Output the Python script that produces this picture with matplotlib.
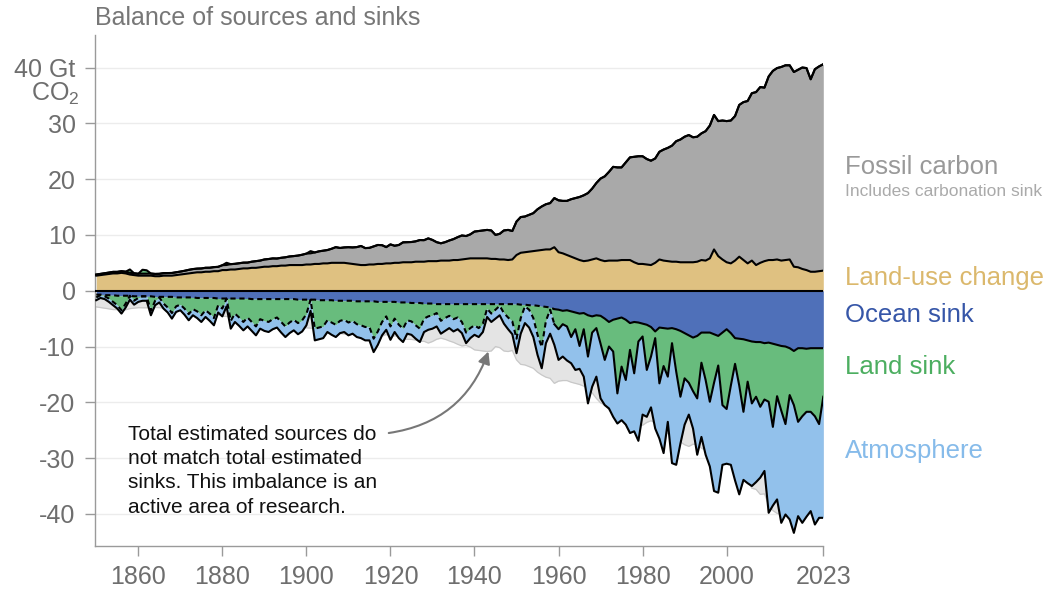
import numpy as np
import matplotlib
matplotlib.use("Agg")
import matplotlib.pyplot as plt

# figure size in pixels (dpi 100)
W, H = 1064, 595

years = np.arange(1850, 2024)

# Gt CO2 per year
fossil = [
    0.20, 0.21, 0.23, 0.25, 0.28, 0.28, 0.30, 0.31, 0.31, 0.33,
    0.34, 0.36, 0.36, 0.38, 0.41, 0.43, 0.45, 0.47, 0.48, 0.50,
    0.53, 0.57, 0.64, 0.68, 0.66, 0.69, 0.71, 0.72, 0.73, 0.78,
    0.87, 0.91, 0.96, 1.02, 1.02, 1.03, 1.04, 1.10, 1.21, 1.20,
    1.30, 1.38, 1.39, 1.37, 1.40, 1.49, 1.54, 1.61, 1.70, 1.85,
    1.95, 2.00, 2.06, 2.26, 2.27, 2.39, 2.52, 2.81, 2.66, 2.76,
    2.90, 2.96, 3.12, 3.42, 3.04, 2.98, 3.25, 3.40, 3.36, 2.92,
    3.40, 3.06, 3.20, 3.57, 3.60, 3.63, 3.65, 3.88, 3.86, 4.08,
    3.80, 3.40, 3.10, 3.30, 3.60, 3.75, 4.10, 4.30, 4.10, 4.30,
    4.80, 4.90, 5.00, 5.10, 5.10, 4.30, 4.60, 5.20, 5.40, 5.10,
    6.00, 6.40, 6.40, 6.60, 6.80, 7.40, 7.80, 8.10, 8.30, 8.80,
    9.30, 9.40, 9.70, 10.30, 10.80, 11.30, 11.80, 12.10, 12.70, 13.50,
    14.60, 15.20, 15.90, 16.80, 16.70, 16.60, 17.50, 18.40, 18.90, 19.30,
    19.30, 18.90, 18.70, 18.70, 19.30, 19.90, 20.30, 20.80, 21.60, 22.00,
    22.50, 22.80, 22.40, 22.40, 22.70, 23.20, 23.80, 24.10, 24.20, 24.90,
    25.30, 25.60, 25.90, 27.20, 28.30, 29.10, 30.00, 31.00, 31.50, 31.10,
    32.90, 33.90, 34.30, 34.70, 34.90, 34.80, 34.90, 35.40, 36.10, 36.20,
    34.50, 36.30, 36.70, 37.00,
]

land_use = [
    2.7, 2.8, 2.9, 3.0, 3.1, 3.1, 3.2, 3.1, 2.9, 2.8,
    2.7, 2.7, 2.7, 2.7, 2.6, 2.6, 2.7, 2.7, 2.7, 2.8,
    2.9, 3.0, 3.1, 3.2, 3.3, 3.3, 3.4, 3.4, 3.5, 3.5,
    3.7, 3.7, 3.8, 3.8, 3.9, 4.0, 4.0, 4.1, 4.1, 4.2,
    4.3, 4.3, 4.4, 4.4, 4.5, 4.5, 4.6, 4.6, 4.6, 4.6,
    4.7, 4.7, 4.8, 4.8, 4.9, 4.9, 5.0, 5.0, 5.0, 5.0,
    4.9, 4.8, 4.7, 4.6, 4.6, 4.7, 4.7, 4.8, 4.8, 4.9,
    4.9, 5.0, 5.0, 5.1, 5.1, 5.1, 5.2, 5.2, 5.2, 5.3,
    5.3, 5.3, 5.4, 5.4, 5.4, 5.5, 5.5, 5.6, 5.7, 5.8,
    5.8, 5.8, 5.8, 5.8, 5.7, 5.7, 5.6, 5.6, 5.5, 5.6,
    6.4, 6.8, 6.9, 7.0, 7.1, 7.2, 7.3, 7.4, 7.4, 7.8,
    6.9, 6.7, 6.4, 6.1, 5.8, 5.5, 5.3, 5.4, 5.6, 5.8,
    5.5, 5.3, 5.4, 5.4, 5.4, 5.5, 5.5, 5.5, 5.1, 4.8,
    4.8, 4.7, 4.6, 5.0, 5.6, 5.4, 5.3, 5.2, 5.2, 5.1,
    5.1, 5.1, 5.1, 5.2, 5.5, 5.4, 5.8, 7.4, 6.2, 5.6,
    5.1, 4.9, 5.4, 6.1, 5.5, 4.9, 5.4, 4.6, 5.0, 5.3,
    5.5, 5.5, 5.6, 5.4, 5.5, 5.6, 4.3, 4.2, 3.9, 3.7,
    3.4, 3.4, 3.5, 3.6,
]

ocean_sink = [
    -0.7, -0.7, -0.8, -0.8, -0.8, -0.9, -0.9, -0.9, -0.9, -1.0,
    -1.0, -1.0, -1.0, -1.0, -1.1, -1.1, -1.1, -1.1, -1.1, -1.2,
    -1.2, -1.2, -1.2, -1.2, -1.3, -1.3, -1.3, -1.3, -1.3, -1.4,
    -1.4, -1.4, -1.4, -1.4, -1.4, -1.4, -1.4, -1.5, -1.5, -1.5,
    -1.5, -1.5, -1.5, -1.5, -1.5, -1.5, -1.5, -1.5, -1.6, -1.6,
    -1.6, -1.6, -1.6, -1.7, -1.7, -1.7, -1.7, -1.8, -1.8, -1.8,
    -1.8, -1.8, -1.9, -1.9, -1.9, -1.9, -1.9, -2.0, -2.0, -2.0,
    -2.0, -2.0, -2.1, -2.1, -2.1, -2.2, -2.2, -2.2, -2.3, -2.3,
    -2.3, -2.4, -2.4, -2.4, -2.4, -2.4, -2.4, -2.4, -2.4, -2.4,
    -2.4, -2.4, -2.4, -2.4, -2.4, -2.4, -2.4, -2.4, -2.4, -2.4,
    -2.4, -2.5, -2.5, -2.6, -2.6, -2.7, -2.8, -2.9, -3.0, -3.3,
    -3.4, -3.6, -3.5, -3.7, -3.9, -4.1, -4.0, -4.4, -4.6, -4.4,
    -4.5, -5.0, -5.6, -5.2, -5.0, -4.8, -5.2, -5.8, -5.6, -5.7,
    -5.9, -6.1, -6.5, -7.3, -6.6, -6.7, -6.8, -6.7, -6.9, -7.2,
    -7.6, -8.0, -8.4, -8.1, -7.5, -7.5, -7.5, -7.8, -8.1, -7.5,
    -6.9, -7.6, -8.5, -8.6, -8.7, -8.9, -9.1, -9.2, -9.2, -9.4,
    -9.3, -9.5, -9.7, -9.9, -10.0, -10.3, -10.8, -10.3, -10.3, -10.4,
    -10.3, -10.3, -10.3, -10.3,
]

# negative = sink, positive = net land source
land_sink = [
    -0.5, -0.1, -0.2, -0.6, -1.2, -1.7, -2.6, -1.4, 0.6, -0.8,
    -0.3, 0.7, 0.6, -2.6, -0.7, -0.1, -1.2, -1.9, -2.9, -1.6,
    -1.3, -2.0, -3.0, -2.1, -2.4, -3.1, -2.2, -2.8, -3.6, -1.2,
    -1.8, 0.4, -4.0, -2.7, -3.4, -4.2, -3.4, -4.1, -4.9, -3.6,
    -3.9, -4.1, -3.6, -3.3, -4.1, -4.9, -4.2, -3.7, -4.2, -3.7,
    -2.6, 0.4, -5.2, -4.9, -4.7, -3.6, -4.0, -4.3, -3.6, -3.4,
    -3.9, -3.6, -4.1, -4.3, -4.6, -4.6, -6.7, -5.3, -3.6, -2.6,
    -4.4, -3.0, -4.0, -4.7, -3.2, -3.3, -4.0, -4.6, -2.7, -2.3,
    -2.1, -1.6, -3.0, -2.5, -2.1, -2.7, -2.4, -3.2, -5.1, -4.3,
    -3.8, -4.3, -3.5, -0.8, -1.7, -1.0, -0.3, -1.6, -2.4, -3.1,
    -6.2, -2.4, -0.3, -0.8, -2.3, -5.2, -7.3, -2.5, -0.4, -2.7,
    -3.5, -2.4, -2.9, -4.6, -3.0, -5.8, -2.9, -7.4, -2.9, -2.3,
    -5.0, -7.4, -4.4, -5.7, -13.4, -8.8, -10.8, -4.8, -9.2, -3.4,
    -2.3, -8.1, -5.3, -1.2, -10.0, -6.8, -8.6, -2.7, -7.6, -11.8,
    -8.1, -8.5, -9.6, -11.2, -5.4, -8.5, -12.4, -8.7, -5.3, -13.0,
    -14.3, -9.4, -4.6, -8.4, -13.0, -7.4, -11.1, -9.8, -11.6, -10.1,
    -10.6, -14.9, -9.2, -11.6, -13.9, -8.4, -9.7, -13.2, -12.2, -11.3,
    -11.4, -12.2, -13.6, -8.7,
]

atmosphere = [
    -0.5, -0.5, -0.5, -0.6, -0.6, -0.6, -0.6, -0.7, -0.7, -0.7,
    -0.7, -0.8, -0.8, -0.8, -0.8, -0.9, -0.9, -0.9, -1.0, -1.0,
    -1.0, -1.1, -1.1, -1.1, -1.2, -1.2, -1.2, -1.3, -1.3, -1.3,
    -1.4, -1.4, -1.4, -1.5, -1.5, -1.5, -1.6, -1.6, -1.6, -1.7,
    -1.8, -1.8, -1.8, -1.8, -1.9, -1.9, -1.9, -1.9, -2.0, -2.0,
    -2.0, -2.0, -2.1, -2.1, -2.1, -2.1, -2.2, -2.2, -2.2, -2.2,
    -2.3, -2.3, -2.3, -2.3, -2.4, -2.4, -2.4, -2.4, -2.4, -2.4,
    -2.4, -2.4, -2.4, -2.4, -2.4, -2.4, -2.4, -2.4, -2.4, -2.4,
    -2.4, -2.4, -2.3, -2.3, -2.2, -2.2, -2.1, -2.0, -1.9, -1.8,
    -1.7, -1.6, -1.5, -1.5, -1.5, -1.6, -1.7, -1.9, -2.1, -2.3,
    -2.6, -2.8, -3.0, -3.2, -3.4, -3.6, -3.8, -4.0, -4.3, -3.7,
    -5.5, -5.8, -6.1, -4.7, -7.3, -4.1, -8.5, -8.4, -9.7, -8.7,
    -9.8, -8.1, -11.1, -11.7, -5.4, -9.6, -8.0, -14.9, -10.4, -17.8,
    -14.0, -8.4, -9.1, -16.2, -9.9, -15.6, -8.1, -21.5, -16.7, -8.4,
    -8.3, -5.7, -6.7, -10.1, -13.3, -13.4, -11.6, -19.4, -22.8, -10.7,
    -9.8, -14.2, -20.9, -19.5, -12.2, -18.2, -14.8, -15.3, -12.7, -12.8,
    -19.9, -14.1, -18.5, -20.1, -16.2, -22.3, -22.9, -16.9, -19.1, -18.8,
    -17.8, -19.4, -16.8, -21.7,
]

x_ticks = [1860, 1880, 1900, 1920, 1940, 1960, 1980, 2000, 2023]
y_ticks = [-40, -30, -20, -10, 0, 10, 20, 30, 40]
y_tick_labels = ["-40", "-30", "-20", "-10", "0", "10", "20", "30", "40 Gt"]

note_lines = [
    "Total estimated sources do",
    "not match total estimated",
    "sinks. This imbalance is an",
    "active area of research.",
]

C_FOSSIL = "#a9a9a9"
C_LUC = "#dfc181"
C_OCEAN = "#4f70b9"
C_LAND = "#68bc7d"
C_ATM = "#92c1eb"
C_GAP = "#e4e4e4"

plt.rcParams["font.family"] = ["Liberation Sans", "DejaVu Sans"]
plt.rcParams["mathtext.default"] = "regular"


def fpos(px, py):
    """pixel position in the 1064x595 picture -> figure fraction"""
    return px / W, 1 - py / H


def main():
    fos = np.array(fossil)
    luc = np.array(land_use)
    ocean = np.array(ocean_sink)
    land = np.array(land_sink)
    atm = np.array(atmosphere)
    assert len(fos) == len(luc) == len(ocean) == len(land) == len(atm) == len(years)

    pos_top = luc + fos
    land_src = np.clip(land, 0, None)
    land_line = ocean + np.clip(land, None, 0)
    bottom = land_line + atm

    fig = plt.figure(figsize=(W / 100, H / 100), dpi=100)
    ax = fig.add_axes([95 / W, 49 / H, 728.3 / W, 511 / H])

    # sources mirrored below zero (shows the budget imbalance)
    ax.fill_between(years, 0, -pos_top, color=C_GAP, lw=0, zorder=1)
    ax.plot(years, -pos_top, color="#c8c8c8", lw=0.9, zorder=1.5)

    ax.fill_between(years, 0, luc, color=C_LUC, lw=0, zorder=2)
    ax.fill_between(years, luc, pos_top, color=C_FOSSIL, lw=0, zorder=2)
    ax.fill_between(years, pos_top, pos_top + land_src, color=C_LAND, lw=0, zorder=2)
    ax.fill_between(years, 0, ocean, color=C_OCEAN, lw=0, zorder=2)
    ax.fill_between(years, ocean, land_line, color=C_LAND, lw=0, zorder=2)
    ax.fill_between(years, land_line, bottom, color=C_ATM, lw=0, zorder=2)

    lk = dict(color="black", lw=1.5, zorder=3, solid_joinstyle="round",
              dash_joinstyle="round")
    ax.plot(years, pos_top + land_src, **lk)
    ax.plot(years, pos_top, **lk)
    ax.plot(years, luc, **lk)
    ax.plot(years, np.zeros(len(years)), **lk)
    # dashed before 1959
    k = list(years).index(1959)
    for line in (ocean, land_line):
        ax.plot(years[:k + 1], line[:k + 1], ls=(0, (2.5, 1.8)), **lk)
        ax.plot(years[k:], line[k:], **lk)
    ax.plot(years, bottom, **lk)

    ax.set_xlim(1849.7, 2023)
    ax.set_ylim(-45.75, 45.83)
    ax.set_xticks(x_ticks)
    ax.set_xticklabels([str(v) for v in x_ticks])
    ax.set_yticks(y_ticks)
    ax.set_yticklabels(y_tick_labels)

    for s in ("top", "right"):
        ax.spines[s].set_visible(False)
    for s in ("left", "bottom"):
        ax.spines[s].set_color("#9a9a9a")
        ax.spines[s].set_linewidth(1)
    ax.tick_params(axis="both", length=7, width=1, color="#9a9a9a",
                   labelsize=18, labelcolor="#6e6e6e")
    ax.tick_params(axis="y", pad=7)
    ax.tick_params(axis="x", pad=7)
    ax.yaxis.grid(True, color="#ececec", lw=1)
    ax.set_axisbelow(True)

    fig.text(*fpos(80, 101), "CO$_2$", ha="right", va="baseline",
             fontsize=18, color="#6e6e6e")
    fig.text(*fpos(95, 25), "Balance of sources and sinks", ha="left",
             va="baseline", fontsize=18, color="#777777")

    # series labels on the right
    fig.text(*fpos(845, 174), "Fossil carbon", fontsize=18.5, color="#999999")
    fig.text(*fpos(845, 196), "Includes carbonation sink", fontsize=12.5,
             color="#aaaaaa")
    fig.text(*fpos(845, 285), "Land-use change", fontsize=18.5, color="#dbb86c")
    fig.text(*fpos(845, 322), "Ocean sink", fontsize=18.5, color="#3656a8")
    fig.text(*fpos(845, 374), "Land sink", fontsize=18.5, color="#4cae60")
    fig.text(*fpos(845, 458), "Atmosphere", fontsize=18.5, color="#86bbea")

    for i, line in enumerate(note_lines):
        fig.text(*fpos(128, 439.5 + 24.5 * i), line, fontsize=15,
                 color="#111111")

    ax.annotate("", xy=(1943.3, -10.9), xytext=(1919.6, -25.5),
                arrowprops=dict(arrowstyle="-|>", color="#777777", lw=1.5,
                                mutation_scale=18, shrinkA=0, shrinkB=0,
                                connectionstyle="arc3,rad=0.3"),
                zorder=4)

    fig.savefig("out.png", dpi=100)


if __name__ == "__main__":
    main()
